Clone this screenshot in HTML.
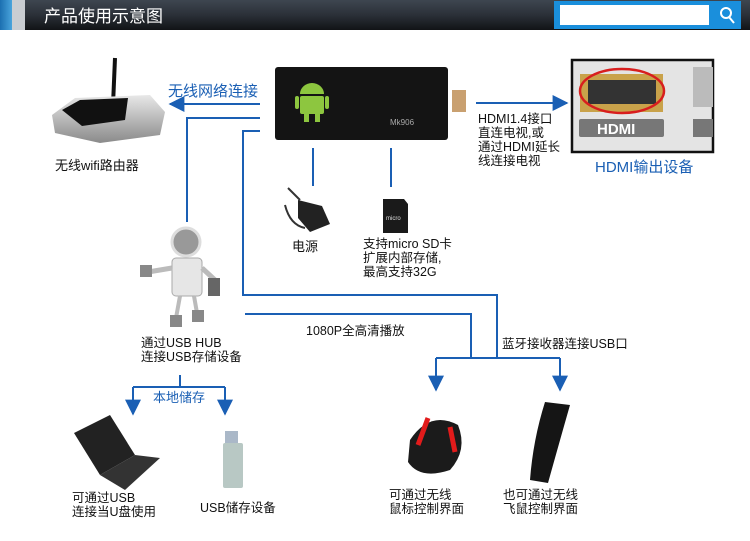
<!DOCTYPE html>
<html><head><meta charset="utf-8"><style>
body{margin:0;width:750px;height:541px;background:#fff;overflow:hidden;font-family:"Liberation Sans","Noto Sans CJK SC",sans-serif}
svg{display:block}
text{font-family:"Liberation Sans","Noto Sans CJK SC",sans-serif}
</style></head><body>
<svg width="750" height="541" viewBox="0 0 750 541" xmlns="http://www.w3.org/2000/svg">
<defs>
<linearGradient id="hd" x1="0" y1="0" x2="0" y2="1"><stop offset="0" stop-color="#3e4650"/><stop offset="0.5" stop-color="#2b3038"/><stop offset="1" stop-color="#111316"/></linearGradient>
<linearGradient id="bl" x1="0" y1="0" x2="1" y2="0"><stop offset="0" stop-color="#1b6fb0"/><stop offset="1" stop-color="#4aa4dc"/></linearGradient>
<linearGradient id="rt" x1="0" y1="0" x2="0" y2="1"><stop offset="0" stop-color="#e8e8e8"/><stop offset="1" stop-color="#8a8a8a"/></linearGradient>
<marker id="ar" viewBox="0 0 10 10" refX="9" refY="5" markerWidth="8" markerHeight="8" orient="auto"><path d="M0,0 L10,5 L0,10 z" fill="#1a5fb4"/></marker>
</defs>
<!-- header -->
<rect x="0" y="0" width="750" height="30" fill="url(#hd)"/>
<rect x="0" y="0" width="12" height="30" fill="url(#bl)"/>
<rect x="12" y="0" width="13" height="30" fill="#c9cdd2"/>
<text x="44" y="22" font-size="17" fill="#fff">产品使用示意图</text>
<rect x="554" y="1" width="187" height="28" fill="#1a8fdc"/>
<rect x="560" y="5" width="149" height="20" fill="#fff"/>
<circle cx="726" cy="13" r="5" fill="none" stroke="#fff" stroke-width="2"/>
<line x1="729" y1="17" x2="734" y2="23" stroke="#fff" stroke-width="2"/>

<!-- connectors -->
<g stroke="#1a5fb4" stroke-width="2" fill="none">
<line x1="260" y1="104" x2="170" y2="104" marker-end="url(#ar)"/>
<polyline points="260,118 187,118 187,222"/>
<polyline points="260,131 243,131 243,295 497,295 497,358"/>
<polyline points="245,314 471,314 471,358"/>
<polyline points="436,358 560,358"/>
<line x1="436" y1="358" x2="436" y2="390" marker-end="url(#ar)"/>
<line x1="560" y1="358" x2="560" y2="390" marker-end="url(#ar)"/>
<line x1="476" y1="103" x2="567" y2="103" marker-end="url(#ar)"/>
<line x1="313" y1="148" x2="313" y2="186"/>
<line x1="391" y1="148" x2="391" y2="187"/>
<line x1="180" y1="375" x2="180" y2="387"/>
<polyline points="133,387 225,387"/>
<line x1="133" y1="387" x2="133" y2="414" marker-end="url(#ar)"/>
<line x1="225" y1="387" x2="225" y2="414" marker-end="url(#ar)"/>
</g>

<!-- router -->
<line x1="115" y1="58" x2="113" y2="105" stroke="#111" stroke-width="4"/>
<path d="M52,115 L75,98 L150,95 L165,112 L160,135 L100,143 L55,133 Z" fill="url(#rt)"/>
<path d="M62,110 L80,100 L128,98 L125,120 L82,126 Z" fill="#111"/>
<text x="55" y="170" font-size="13" fill="#111">无线wifi路由器</text>

<!-- device -->
<rect x="275" y="67" width="173" height="73" rx="3" fill="#141414"/>
<rect x="452" y="90" width="14" height="22" fill="#c9a070"/>
<g fill="#8dc63f"><path d="M300,94 a12,11 0 0 1 24,0 z"/><rect x="300" y="96" width="24" height="18" rx="2"/><rect x="295" y="96" width="4" height="13" rx="2"/><rect x="325" y="96" width="4" height="13" rx="2"/><rect x="304" y="114" width="5" height="8"/><rect x="315" y="114" width="5" height="8"/></g>
<text x="390" y="125" font-size="8" fill="#aaa">Mk906</text>
<text x="168" y="96" font-size="15" fill="#1a5fb4">无线网络连接</text>

<!-- HDMI -->
<text font-size="12.5" fill="#111"><tspan x="478" y="123">HDMI1.4接口</tspan><tspan x="478" y="137">直连电视,或</tspan><tspan x="478" y="151">通过HDMI延长</tspan><tspan x="478" y="165">线连接电视</tspan></text>
<rect x="572" y="60" width="141" height="92" fill="#e4e4e4" stroke="#111" stroke-width="2.5"/>
<rect x="580" y="74" width="83" height="38" fill="#c9a24a"/>
<rect x="588" y="80" width="68" height="24" fill="#333"/>
<ellipse cx="622" cy="91" rx="42" ry="22" fill="none" stroke="#d81e1e" stroke-width="2.5"/>
<rect x="579" y="119" width="85" height="18" rx="2" fill="#777"/>
<text x="597" y="134" font-size="15" fill="#fff" font-weight="bold">HDMI</text>
<rect x="693" y="67" width="20" height="40" fill="#bbb"/>
<rect x="693" y="119" width="20" height="18" fill="#777"/>
<text x="595" y="172" font-size="15" fill="#1a5fb4">HDMI输出设备</text>

<!-- power -->
<path d="M298,200 L322,206 L330,224 L310,232 L298,218 Z" fill="#222"/>
<path d="M288,188 L300,200 M285,205 Q290,225 305,228" stroke="#333" stroke-width="2" fill="none"/>
<text x="292" y="251" font-size="13" fill="#111">电源</text>
<!-- SD -->
<path d="M383,199 L404,199 L408,204 L408,233 L383,233 Z" fill="#1a1a1a"/>
<text x="386" y="220" font-size="6" fill="#ddd">micro</text>
<text font-size="12.5" fill="#111"><tspan x="363" y="248">支持micro SD卡</tspan><tspan x="363" y="262">扩展内部存储,</tspan><tspan x="363" y="276">最高支持32G</tspan></text>

<!-- hub robot -->
<circle cx="186" cy="242" r="14" fill="#999" stroke="#ddd" stroke-width="3"/>
<rect x="172" y="258" width="30" height="38" rx="4" fill="#e6e6e6" stroke="#aaa"/>
<path d="M172,268 L148,272 M202,268 L215,280" stroke="#bbb" stroke-width="5"/>
<rect x="208" y="278" width="12" height="18" fill="#666"/>
<rect x="140" y="265" width="12" height="12" fill="#888"/>
<path d="M180,296 L176,318 M194,296 L197,313" stroke="#bbb" stroke-width="4"/>
<rect x="170" y="315" width="12" height="12" fill="#888"/><rect x="192" y="310" width="12" height="12" fill="#888"/>
<text font-size="12.5" fill="#111"><tspan x="141" y="347">通过USB HUB</tspan><tspan x="141" y="361">连接USB存储设备</tspan></text>

<text x="306" y="335" font-size="12.5" fill="#111">1080P全高清播放</text>
<text x="502" y="348" font-size="12.5" fill="#111">蓝牙接收器连接USB口</text>
<text x="153" y="402" font-size="13" fill="#1a5fb4">本地储存</text>

<!-- laptop -->
<path d="M74,433 L110,415 L135,455 L100,475 Z" fill="#222"/>
<path d="M100,475 L135,455 L160,458 L125,490 Z" fill="#333"/>
<text font-size="12.5" fill="#111"><tspan x="72" y="502">可通过USB</tspan><tspan x="72" y="516">连接当U盘使用</tspan></text>
<!-- usb stick -->
<rect x="225" y="431" width="13" height="14" fill="#aab8c8"/>
<rect x="223" y="443" width="20" height="45" rx="2" fill="#b8c8c4"/>
<text x="200" y="512" font-size="12.5" fill="#111">USB储存设备</text>

<!-- mouse -->
<path d="M410,440 Q430,410 458,425 Q468,450 450,470 Q420,480 408,462 Z" fill="#1b1b1b"/>
<path d="M428,418 L418,445 M450,427 L455,452" stroke="#e21b1b" stroke-width="5"/>
<text font-size="12.5" fill="#111"><tspan x="389" y="499">可通过无线</tspan><tspan x="389" y="513">鼠标控制界面</tspan></text>
<!-- remote -->
<path d="M545,402 L570,405 Q560,440 548,483 L530,480 Q533,440 545,402 Z" fill="#151515"/>
<text font-size="12.5" fill="#111"><tspan x="503" y="499">也可通过无线</tspan><tspan x="503" y="513">飞鼠控制界面</tspan></text>
</svg>
</body></html>
